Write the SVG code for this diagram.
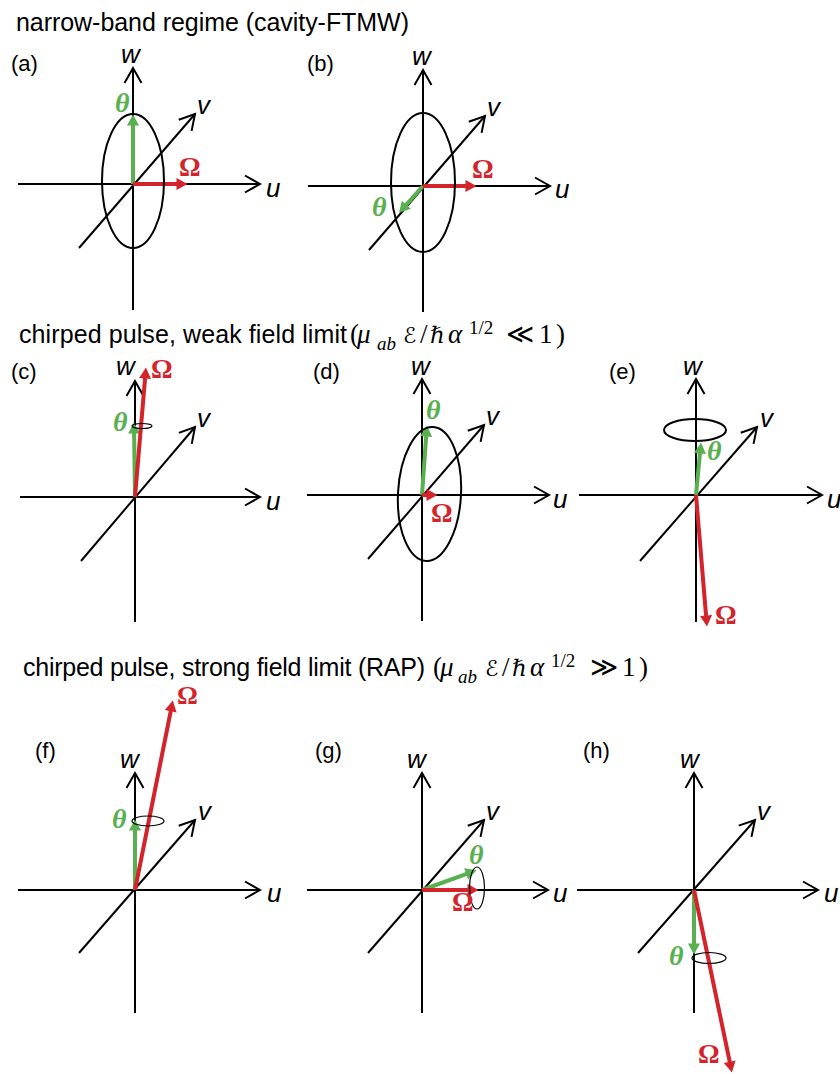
<svg xmlns="http://www.w3.org/2000/svg" width="840" height="1074" viewBox="0 0 840 1074">
<defs>
<style>
.ax{stroke:#000;stroke-width:2;fill:none}
.axa{stroke:#000;stroke-width:2;fill:none;marker-end:url(#chev)}
.el{stroke:#000;stroke-width:2;fill:none}
.els{stroke:#000;stroke-width:1.2;fill:none}
.gv{stroke:#59b04f;stroke-width:4;fill:none;marker-end:url(#hg)}
.rv{stroke:#d3232b;stroke-width:4;fill:none;marker-end:url(#hr)}
.hd{font-family:"Liberation Sans",Arial,sans-serif;font-size:25px;fill:#000}
.pl{font-family:"Liberation Sans",Arial,sans-serif;font-size:22px;fill:#000}
.al{font-family:"Liberation Sans",Arial,sans-serif;font-size:26px;font-style:italic;fill:#000}
.th{font-family:"Liberation Serif","DejaVu Serif",serif;font-size:28px;font-style:italic;font-weight:bold;fill:#59b04f}
.om{font-family:"Liberation Serif","DejaVu Serif",serif;font-size:27px;font-weight:bold;fill:#d3232b}
.m{font-family:"Liberation Serif","DejaVu Serif",serif;font-size:27px;fill:#000}
.mi{font-style:italic}
.ms{font-size:19px}
.se{font-family:"DejaVu Sans",sans-serif;font-size:22px}
.hb{font-size:23px}
</style>
<marker id="chev" markerUnits="userSpaceOnUse" orient="auto" refX="0" refY="0" markerWidth="20" markerHeight="20" viewBox="-17 -10 20 20" overflow="visible">
<path d="M-15,-8.5 L0,0 L-15,8.5" fill="none" stroke="#000" stroke-width="2"/>
</marker>
<marker id="hg" markerUnits="userSpaceOnUse" orient="auto" refX="0.5" refY="0" markerWidth="14" markerHeight="14" viewBox="0 -7 14 14" overflow="visible">
<path d="M0,-6 L11,0 L0,6 z" fill="#59b04f"/>
</marker>
<marker id="hr" markerUnits="userSpaceOnUse" orient="auto" refX="0.5" refY="0" markerWidth="14" markerHeight="14" viewBox="0 -7 14 14" overflow="visible">
<path d="M0,-6 L11,0 L0,6 z" fill="#d3232b"/>
</marker>
</defs>
<rect width="840" height="1074" fill="#fff"/>

<g id="headers">
<text class="hd" x="16" y="31" textLength="393">narrow-band regime (cavity-FTMW)</text>
<text class="hd" x="19" y="343" textLength="328">chirped pulse, weak field limit</text>
<g class="m">
<text x="350" y="343">(</text>
<text class="mi" x="357" y="343">μ</text>
<text class="mi ms" x="377" y="350">ab</text>
<text class="se" x="403" y="343">ℰ</text>
<text x="420" y="343">/</text>
<text class="hb" x="430" y="343">ℏ</text>
<text class="mi" x="448" y="343">α</text>
<text class="ms" x="469" y="334">1/2</text>
<text x="506" y="343">≪</text>
<text x="539" y="343">1</text>
<text x="556" y="343">)</text>
</g>
<text class="hd" x="23" y="676" textLength="402">chirped pulse, strong field limit (RAP)</text>
<g class="m">
<text x="433" y="676">(</text>
<text class="mi" x="440" y="676">μ</text>
<text class="mi ms" x="458" y="683">ab</text>
<text class="se" x="485" y="676">ℰ</text>
<text x="502" y="676">/</text>
<text class="hb" x="512" y="676">ℏ</text>
<text class="mi" x="530" y="676">α</text>
<text class="ms" x="551" y="667">1/2</text>
<text x="590" y="676">≫</text>
<text x="622" y="676">1</text>
<text x="639" y="676">)</text>
</g>
</g>

<!-- panel a -->
<g id="panel-a">
<text class="pl" x="11" y="71">(a)</text>
<g transform="translate(133,184)">
<line class="axa" x1="-115" y1="0" x2="127" y2="0"/>
<line class="axa" x1="0" y1="126" x2="0" y2="-116"/>
<line class="axa" x1="-54" y1="64" x2="62" y2="-70"/>
<text class="al" x="-12" y="-121">w</text>
<text class="al" x="133" y="13">u</text>
<text class="al" x="64" y="-70">v</text>
</g>
<path class="gv" d="M133,184 L133,125"/>
<path class="rv" d="M133,184 L177,184"/>
<ellipse class="el" cx="133" cy="181" rx="31" ry="67"/>
<text class="th" x="115" y="112">θ</text>
<text class="om" x="179" y="176">Ω</text>
</g>

<!-- panel b -->
<g id="panel-b">
<text class="pl" x="307" y="71">(b)</text>
<g transform="translate(423,186)">
<line class="axa" x1="-115" y1="0" x2="127" y2="0"/>
<line class="axa" x1="0" y1="126" x2="0" y2="-116"/>
<line class="axa" x1="-54" y1="64" x2="62" y2="-70"/>
<text class="al" x="-11" y="-121">w</text>
<text class="al" x="132" y="12">u</text>
<text class="al" x="64" y="-70">v</text>
</g>
<path class="gv" d="M423,186 L406,205"/>
<path class="rv" d="M423,186 L466,186"/>
<ellipse class="el" cx="423" cy="182.5" rx="32" ry="69.5"/>
<text class="th" x="372" y="216">θ</text>
<text class="om" x="472" y="178">Ω</text>
</g>

<!-- panel c -->
<g id="panel-c">
<text class="pl" x="11" y="379">(c)</text>
<g transform="translate(135,497)">
<line class="axa" x1="-115" y1="0" x2="125" y2="0"/>
<line class="axa" x1="0" y1="125" x2="0" y2="-116"/>
<line class="axa" x1="-54" y1="64" x2="60" y2="-70"/>
<text class="al" x="-19" y="-122">w</text>
<text class="al" x="131" y="13">u</text>
<text class="al" x="62" y="-70">v</text>
</g>
<path class="gv" d="M135,497 L134.1,433"/>
<path class="rv" d="M135,497 L145.1,378"/>
<ellipse class="els" cx="142" cy="426" rx="10" ry="2.5"/>
<text class="th" x="113" y="431">θ</text>
<text class="om" x="151" y="378">Ω</text>
</g>

<!-- panel d -->
<g id="panel-d">
<text class="pl" x="313" y="379">(d)</text>
<g transform="translate(422,495)">
<line class="axa" x1="-115" y1="0" x2="127" y2="0"/>
<line class="axa" x1="0" y1="126" x2="0" y2="-116"/>
<line class="axa" x1="-54" y1="64" x2="62" y2="-70"/>
<text class="al" x="-11" y="-120">w</text>
<text class="al" x="131" y="13">u</text>
<text class="al" x="64" y="-70">v</text>
</g>
<path class="gv" d="M422,495 L426.2,436"/>
<path class="rv" d="M422,495 L427,495"/>
<ellipse class="el" cx="429.5" cy="494" rx="31.5" ry="67" transform="rotate(3 429.5 494)"/>
<text class="th" x="426" y="419">θ</text>
<text class="om" x="431" y="522">Ω</text>
</g>

<!-- panel e -->
<g id="panel-e">
<text class="pl" x="609" y="379">(e)</text>
<g transform="translate(696,495)">
<line class="axa" x1="-117" y1="0" x2="126" y2="0"/>
<line class="axa" x1="0" y1="127" x2="0" y2="-116"/>
<line class="axa" x1="-56" y1="66" x2="61" y2="-68"/>
<text class="al" x="-13" y="-120">w</text>
<text class="al" x="131" y="13">u</text>
<text class="al" x="64" y="-68">v</text>
</g>
<path class="gv" d="M696,495 L700,453"/>
<path class="rv" d="M696,495 L706.1,616"/>
<ellipse class="el" cx="695" cy="430" rx="31" ry="11"/>
<text class="th" x="707" y="460">θ</text>
<text class="om" x="715" y="624">Ω</text>
</g>

<!-- panel f -->
<g id="panel-f">
<text class="pl" x="35" y="758">(f)</text>
<g transform="translate(135,890)">
<line class="axa" x1="-117" y1="0" x2="125" y2="0"/>
<line class="axa" x1="0" y1="123" x2="0" y2="-117"/>
<line class="axa" x1="-56" y1="63" x2="60" y2="-70"/>
<text class="al" x="-15" y="-122">w</text>
<text class="al" x="132" y="12">u</text>
<text class="al" x="63" y="-70">v</text>
</g>
<path class="gv" d="M135,890 L135,830"/>
<path class="rv" d="M135,890 L170.8,710.8"/>
<ellipse class="els" cx="148" cy="821" rx="16" ry="5"/>
<text class="th" x="112" y="828">θ</text>
<text class="om" x="177" y="704" style="font-size:26px">Ω</text>
</g>

<!-- panel g -->
<g id="panel-g">
<text class="pl" x="315" y="758">(g)</text>
<g transform="translate(422,890)">
<line class="axa" x1="-115" y1="0" x2="126" y2="0"/>
<line class="axa" x1="0" y1="123" x2="0" y2="-117"/>
<line class="axa" x1="-54" y1="63" x2="62" y2="-70"/>
<text class="al" x="-15" y="-122">w</text>
<text class="al" x="131" y="12">u</text>
<text class="al" x="64" y="-70">v</text>
</g>
<path class="gv" d="M422,890 L466.7,873.8"/>
<path class="rv" d="M422,890 L468,890"/>
<ellipse class="els" cx="477" cy="888" rx="7.5" ry="21"/>
<text class="th" x="469" y="864">θ</text>
<text class="om" x="452" y="911">Ω</text>
</g>

<!-- panel h -->
<g id="panel-h">
<text class="pl" x="583" y="758">(h)</text>
<g transform="translate(694,890)">
<line class="axa" x1="-117" y1="0" x2="124" y2="0"/>
<line class="axa" x1="0" y1="123" x2="0" y2="-117"/>
<line class="axa" x1="-56" y1="63" x2="61" y2="-70"/>
<text class="al" x="-14" y="-122">w</text>
<text class="al" x="130" y="12">u</text>
<text class="al" x="63" y="-70">v</text>
</g>
<path class="gv" d="M694,890 L694,944"/>
<path class="rv" d="M694,890 L729.8,1062.2"/>
<ellipse class="els" cx="709" cy="958" rx="17" ry="5.5"/>
<text class="th" x="669" y="965">θ</text>
<text class="om" x="698" y="1063">Ω</text>
</g>
</svg>
